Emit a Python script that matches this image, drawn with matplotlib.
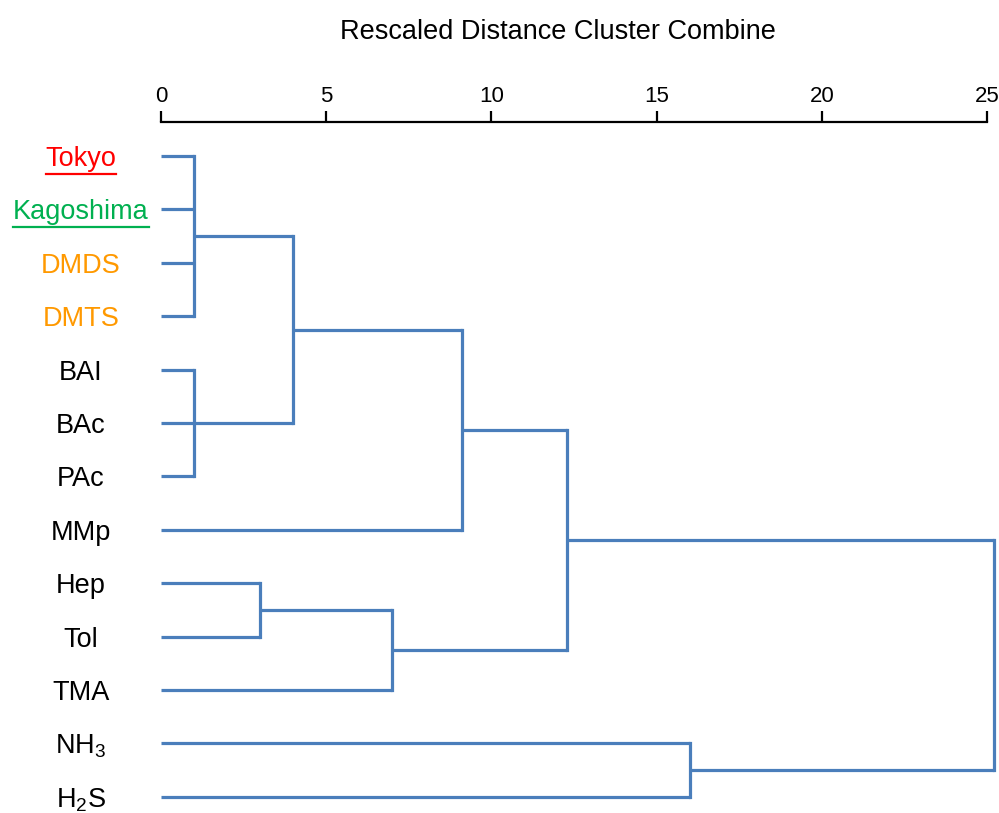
import matplotlib.pyplot as plt
from matplotlib.lines import Line2D

plt.rcParams['font.family'] = ['Liberation Sans', 'DejaVu Sans']
plt.rcParams['mathtext.fontset'] = 'custom'
plt.rcParams['mathtext.rm'] = 'Liberation Sans'

# leaves, top to bottom
labels = ['Tokyo', 'Kagoshima', 'DMDS', 'DMTS', 'BAI', 'BAc', 'PAc',
          'MMp', 'Hep', 'Tol', 'TMA', 'NH3', 'H2S']
display = {'NH3': r'NH$\mathregular{_3}$', 'H2S': r'H$\mathregular{_2}$S'}
label_colors = {'Tokyo': '#ff0000', 'Kagoshima': '#00b050',
                'DMDS': '#ff9900', 'DMTS': '#ff9900'}
underlined = ['Tokyo', 'Kagoshima']

# merges: (new cluster, members, rescaled distance)
merges = [
    ('c0', ['Tokyo', 'Kagoshima', 'DMDS', 'DMTS'], 1.0),
    ('c1', ['BAI', 'BAc', 'PAc'], 1.0),
    ('c2', ['c0', 'c1'], 4.0),
    ('c3', ['c2', 'MMp'], 9.1),
    ('c4', ['Hep', 'Tol'], 3.0),
    ('c5', ['c4', 'TMA'], 7.0),
    ('c6', ['c3', 'c5'], 12.3),
    ('c7', ['NH3', 'H2S'], 16.0),
    ('c8', ['c6', 'c7'], 25.2),
]

ticks = [0, 5, 10, 15, 20, 25]

line_color = '#4a7ebb'
lw = 2.3

fig = plt.figure(figsize=(9.99, 8.13), dpi=100)
ax = fig.add_axes([161 / 999, 0.0, 826 / 999, 1 - 122 / 813])

ypos = {name: i for i, name in enumerate(labels)}
height = {name: 0.0 for name in labels}

for name, members, h in merges:
    ys = [ypos[m] for m in members]
    for m in members:
        ax.plot([height[m], h], [ypos[m], ypos[m]], color=line_color, lw=lw,
                solid_capstyle='butt', clip_on=False)
    ax.plot([h, h], [min(ys), max(ys)], color=line_color, lw=lw,
            solid_capstyle='projecting', clip_on=False)
    ypos[name] = (min(ys) + max(ys)) / 2
    height[name] = h

texts = {}
for i, name in enumerate(labels):
    texts[name] = ax.text(-2.42, i, display.get(name, name), ha='center',
                          va='center_baseline', fontsize=19.5,
                          color=label_colors.get(name, 'black'), clip_on=False)

ax.set_xlim(0, 25)
ax.set_ylim((813 - 156) / 53.4, -(156 - 122) / 53.4)
ax.set_xticks(ticks)
ax.xaxis.tick_top()
ax.tick_params(axis='x', direction='out', length=8, width=1.6, labelsize=16, pad=3)
ax.set_yticks([])
for s in ['bottom', 'left', 'right']:
    ax.spines[s].set_visible(False)
ax.spines['top'].set_linewidth(1.6)

fig.text(558 / 999, 1 - 32 / 813, 'Rescaled Distance Cluster Combine',
         ha='center', va='center', fontsize=19.5)

# underline the sample names
fig.canvas.draw()
inv = fig.transFigure.inverted()
for name in underlined:
    bb = texts[name].get_window_extent().transformed(inv)
    fig.add_artist(Line2D([bb.x0, bb.x1], [bb.y0 - 0.002, bb.y0 - 0.002],
                          color=label_colors[name], lw=1.6))

fig.savefig('out.png', dpi=100)
